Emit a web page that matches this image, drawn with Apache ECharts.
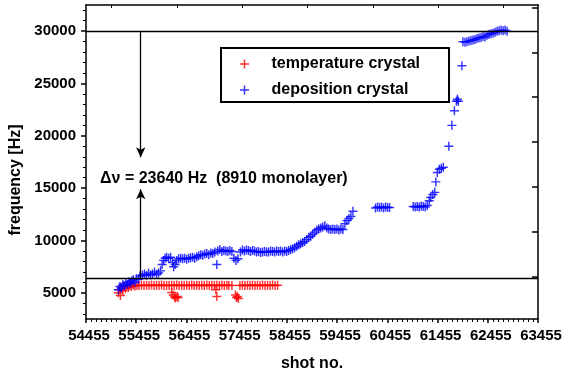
<!DOCTYPE html>
<html>
<head>
<meta charset="utf-8">
<script src="https://cdn.jsdelivr.net/npm/echarts@6/dist/echarts.min.js"></script>
<style>
    html, body { margin: 0; padding: 0; background: #fff; }
    #chart { width: 563px; height: 374px; }
</style>
</head>
<body>
<div id="chart"></div>
<script>
    // temperature crystal : [shot no., frequency]
    const tempData = [
        [55100,5000],[55120,5300],[55140,4750],[55160,5500],[55190,5200],[55210,5600],[55240,5400],
        [55270,5650],[55300,5500],[55330,5700],[55360,5600],[55400,5750],[55430,5650],[55470,5700],
        [55510,5700],[55560,5740],[55610,5690],[55660,5720],[55710,5700],[55760,5750],[55810,5690],
        [55860,5720],[55910,5700],[55960,5740],[56010,5700],[56060,5710],[56110,5690],[56160,5720],
        [56160,5030],[56190,4800],[56220,4600],[56240,4500],[56270,4650],[56290,4550],
        [56210,5700],[56260,5740],[56310,5700],[56360,5720],[56410,5690],[56460,5730],[56510,5700],
        [56560,5750],[56610,5700],[56660,5720],[56710,5690],[56760,5730],[56810,5700],[56860,5740],
        [56910,5700],[56960,5720],[57010,5690],[57040,5300],[57060,4650],[57060,5730],[57110,5700],
        [57160,5740],[57210,5700],[57260,5720],[57300,5700],[57360,5710],
        [57430,4800],[57450,4550],[57470,4650],[57490,4450],
        [57520,5700],[57570,5730],[57620,5700],[57670,5720],[57720,5690],[57770,5740],[57820,5700],
        [57870,5720],[57920,5700],[57970,5740],[58020,5690],[58070,5720],[58120,5700],[58170,5740],
        [58220,5700],[58270,5720]
    ];

    // deposition crystal : [shot no., frequency]
    const depData = [
        [55100,5300],[55130,5600],[55160,5450],[55190,5800],[55220,5650],[55250,5950],[55280,5800],
        [55310,6050],[55340,5900],[55370,6150],[55400,6250],[55430,6000],[55460,6350],[55500,6300],
        [55530,6600],[55580,6700],[55620,6800],[55660,6650],[55700,6900],[55740,6700],[55780,6800],
        [55820,7000],[55860,6750],[55900,6900],[55940,7100],[55970,7700],[56000,8100],[56030,8300],
        [56060,8400],[56100,8300],[56140,8400],[56180,7900],[56200,7500],[56230,7700],[56260,8100],
        [56300,8250],[56340,8300],[56380,8250],[56420,8300],[56460,8200],[56500,8300],[56540,8350],
        [56580,8400],[56620,8300],[56660,8450],[56700,8550],[56740,8650],[56780,8600],[56820,8700],
        [56860,8750],[56900,8650],[56940,8800],[56980,8750],[57020,8900],[57060,7700],[57080,9000],
        [57120,9150],[57160,8950],[57200,9050],[57240,9000],[57280,8950],[57320,9050],[57360,8950],
        [57400,8300],[57440,8100],[57480,8250],[57530,8900],[57570,9100],[57610,9000],[57650,9100],
        [57690,9050],[57730,8950],[57770,9050],[57810,9000],[57850,8900],[57890,8950],[57930,8850],
        [57970,8900],[58010,8950],[58050,8900],[58090,8900],[58130,9000],[58170,8950],[58210,8900],
        [58250,9000],[58290,8950],[58330,9000],[58370,8900],[58410,9000],[58450,8950],[58490,9050],
        [58530,9150],[58570,9200],[58610,9300],[58650,9450],[58690,9600],[58730,9700],[58770,9800],
        [58810,9900],[58850,10100],[58890,10300],[58930,10400],[58970,10600],[59010,10800],[59050,11000],
        [59090,11100],[59130,11200],[59170,11300],[59210,11400],[59250,11200],[59290,11100],[59330,11050],
        [59370,11100],[59410,11050],[59450,11100],[59490,11000],[59530,11100],[59570,11050],[59610,11600],
        [59650,11900],[59690,12100],[59730,12300],[59770,12800],
        [60220,13100],[60260,13200],[60300,13150],[60340,13200],[60380,13100],[60420,13200],[60460,13150],
        [60500,13150],
        [60970,13250],[61010,13200],[61050,13250],[61090,13200],[61130,13300],[61170,13250],[61210,13200],
        [61250,13350],[61290,13800],[61320,14100],[61360,14400],[61400,14600],[61420,15600],[61450,16500],
        [61490,16800],[61530,16900],[61570,17000],[61680,19000],[61740,21000],[61790,22400],[61830,23300],
        [61850,23500],[61870,23300],[61940,26700],
        [61960,29000],[62000,28950],[62040,29000],[62080,29050],[62120,29100],[62160,29150],[62200,29200],
        [62240,29300],[62280,29350],[62320,29400],[62360,29500],[62400,29450],[62440,29600],[62480,29700],
        [62520,29750],[62560,29800],[62600,29900],[62640,30000],[62680,30050],[62720,30100],[62760,30050],
        [62800,30100],[62840,30000]
    ];

    // axis ticks
    const yLabels = [5000, 10000, 15000, 20000, 25000, 30000];
    const yMinor = [3000,4000,6000,7000,8000,9000,11000,12000,13000,14000,16000,17000,18000,19000,
                    21000,22000,23000,24000,26000,27000,28000,29000,31000,32000];
    const topTicks = [54965, 56265, 57565, 58865, 60165, 61465, 62765];
    const rightTicks = [6560, 10850, 15130, 19410, 23690, 27970, 32250];

    // annotation
    const upperLevel = 30000;
    const lowerLevel = 6360;
    const markShot = 55545;
    const deltaText = 'Δν = 23640 Hz  (8910 monolayer)';

    const FONT = '"Liberation Sans", Arial, Helvetica, sans-serif';
    const PLUS = 'path://M0,4.2H10V5.8H0Z M4.2,0H5.8V10H4.2Z';
    const lineStyle = { color: '#000', width: 1.5 };
    const plain = function (v) { return String(v); };

    const option = {
        animation: false,
        textStyle: { fontFamily: FONT },
        grid: { left: 86, right: 25, top: 5, bottom: 55, outerBoundsMode: 'none' },
        legend: {
            orient: 'vertical',
            left: 221,
            top: 48,
            padding: [8, 29, 4, 19],
            itemGap: 10,
            itemWidth: 44,
            itemHeight: 9,
            borderColor: '#000',
            borderWidth: 2,
            textStyle: { fontFamily: FONT, fontWeight: 'bold', fontSize: 16, color: '#000' },
            data: [
                { name: 'temperature crystal', icon: PLUS },
                { name: 'deposition crystal', icon: PLUS }
            ]
        },
        xAxis: [
            {
                type: 'value',
                min: 54455,
                max: 63455,
                interval: 1000,
                name: 'shot no.',
                nameLocation: 'middle',
                nameGap: 37,
                nameTextStyle: { fontFamily: FONT, fontWeight: 'bold', fontSize: 16, color: '#000' },
                axisLine: { lineStyle: lineStyle },
                axisTick: { length: 4, lineStyle: lineStyle },
                minorTick: { show: true, splitNumber: 10, length: 3, lineStyle: { color: '#000', width: 1 } },
                axisLabel: { margin: 9, padding: [0, 0, 0, 6], formatter: plain, fontFamily: FONT, fontWeight: 'bold', fontSize: 15, color: '#000' },
                splitLine: { show: false }
            },
            {
                type: 'value',
                position: 'top',
                min: 54455,
                max: 63455,
                axisLine: { show: true, lineStyle: lineStyle },
                axisTick: { show: true, inside: true, length: 3, customValues: topTicks, lineStyle: { color: '#000', width: 1 } },
                axisLabel: { show: false },
                splitLine: { show: false }
            }
        ],
        yAxis: [
            {
                type: 'value',
                min: 2500,
                max: 32500,
                name: 'frequency [Hz]',
                nameLocation: 'middle',
                nameGap: 51,
                nameTextStyle: { fontFamily: FONT, fontWeight: 'bold', fontSize: 16, color: '#000', padding: [0, 36, 0, 0] },
                axisLine: { show: true, lineStyle: lineStyle },
                axisTick: { length: 5, customValues: yLabels, lineStyle: lineStyle },
                axisLabel: { margin: 10, customValues: yLabels, formatter: plain, fontFamily: FONT, fontWeight: 'bold', fontSize: 15, color: '#000' },
                splitLine: { show: false }
            },
            {
                type: 'value',
                position: 'left',
                min: 2500,
                max: 32500,
                axisLine: { show: false },
                axisTick: { show: true, length: 3, customValues: yMinor, lineStyle: { color: '#000', width: 1 } },
                axisLabel: { show: false },
                splitLine: { show: false }
            },
            {
                type: 'value',
                position: 'right',
                min: 2500,
                max: 32500,
                axisLine: { show: true, lineStyle: lineStyle },
                axisTick: { show: true, inside: true, length: 6, customValues: rightTicks, lineStyle: lineStyle },
                axisLabel: { show: false },
                splitLine: { show: false }
            }
        ],
        series: [
            {
                name: 'temperature crystal',
                type: 'scatter',
                symbol: PLUS,
                symbolSize: 9,
                itemStyle: { color: '#ff0000' },
                data: tempData,
                markPoint: {
                    silent: true,
                    symbol: 'circle',
                    symbolSize: 0,
                    label: {
                        show: true,
                        position: 'right',
                        distance: 0,
                        formatter: deltaText,
                        fontFamily: FONT,
                        fontWeight: 'bold',
                        fontSize: 16,
                        color: '#000'
                    },
                    data: [{ coord: [54735, 15940] }]
                }
            },
            {
                name: 'deposition crystal',
                type: 'scatter',
                symbol: PLUS,
                symbolSize: 9,
                itemStyle: { color: '#0000ff' },
                data: depData,
                markLine: {
                    silent: true,
                    symbol: 'none',
                    label: { show: false },
                    lineStyle: { color: '#000', width: 1.3, type: 'solid' },
                    data: [
                        { yAxis: upperLevel },
                        { yAxis: lowerLevel },
                        [
                            { coord: [markShot, upperLevel], symbol: 'none' },
                            { coord: [markShot, 17950], symbol: 'arrow', symbolSize: [7, 10] }
                        ],
                        [
                            { coord: [markShot, lowerLevel], symbol: 'none' },
                            { coord: [markShot, 14900], symbol: 'arrow', symbolSize: [7, 10] }
                        ]
                    ]
                }
            }
        ]
    };

    const chart = echarts.init(document.getElementById('chart'));
    chart.setOption(option);
</script>
</body>
</html>
